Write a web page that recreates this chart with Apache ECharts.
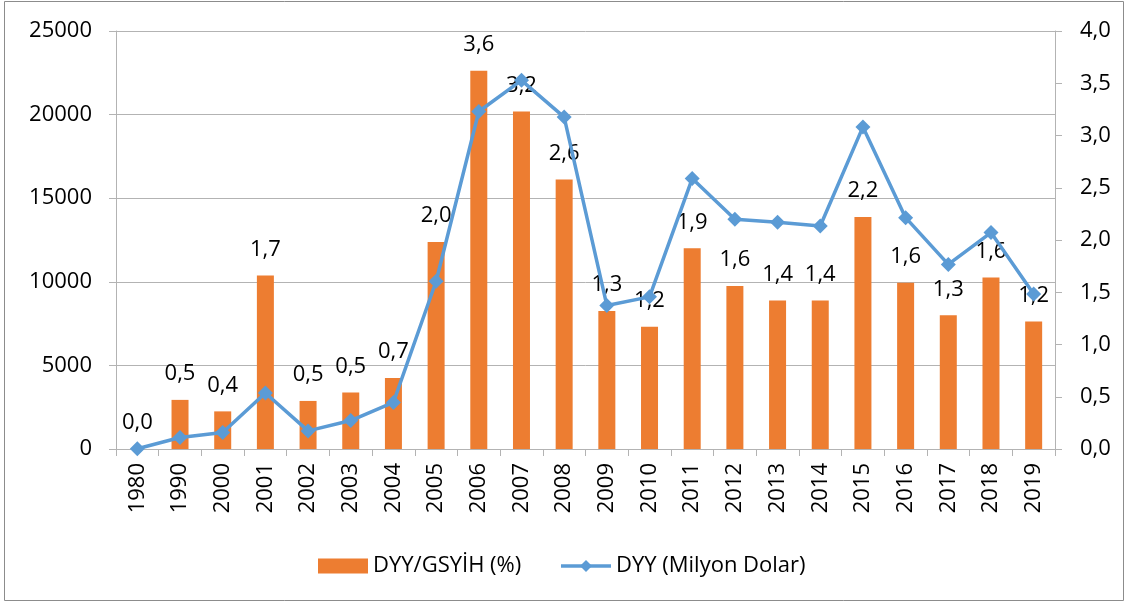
<!DOCTYPE html>
<html>
<head>
<meta charset="utf-8">
<script src="https://cdn.jsdelivr.net/npm/echarts@6/dist/echarts.min.js"></script>
<style>
  html, body { margin: 0; padding: 0; background: #fff; }
  #chart { width: 1126px; height: 604px; }
</style>
</head>
<body>
<div id="chart"></div>
<script>
// years on the x axis
var years = ['1980', '1990', '2000', '2001', '2002', '2003', '2004', '2005', '2006', '2007', '2008',
  '2009', '2010', '2011', '2012', '2013', '2014', '2015', '2016', '2017', '2018', '2019'];
// DYY/GSYİH (%) - bars, right axis
var dyyGsyih = [0.0, 0.47, 0.36, 1.66, 0.46, 0.54, 0.68, 1.98, 3.62, 3.23, 2.58,
  1.32, 1.17, 1.92, 1.56, 1.42, 1.42, 2.22, 1.59, 1.28, 1.64, 1.22];
// DYY (Milyon Dolar) - line, left axis
var dyyMilyon = [18, 684, 982, 3352, 1082, 1702, 2785, 10031, 20185, 22047, 19851,
  8585, 9099, 16176, 13744, 13563, 13337, 19263, 13835, 11042, 12944, 9266];

var fontFam = '"Open Sans", sans-serif';
var gridColor = '#b3b3b3';

function comma(v) {
  return v.toFixed(1).replace('.', ',');
}

var chart = echarts.init(document.getElementById('chart'));
var option = {
  animation: false,
  textStyle: { fontFamily: fontFam },
  graphic: [{
    type: 'rect',
    shape: { x: 4.5, y: 1.5, width: 1119, height: 599 },
    style: { fill: 'none', stroke: '#8c8c8c', lineWidth: 1 },
    silent: true
  }],
  grid: { left: 116, right: 71, top: 31, bottom: 155 },
  legend: {
    left: 313,
    top: 550,
    itemGap: 38,
    itemWidth: 50,
    itemHeight: 15,
    textStyle: { fontSize: 22, color: '#000', fontFamily: fontFam },
    data: [
      { name: 'DYY/GSYİH (%)', icon: 'rect' },
      { name: 'DYY (Milyon Dolar)', itemStyle: { color: '#5B9BD5' }, lineStyle: { width: 3.5, color: '#5B9BD5' } }
    ]
  },
  xAxis: {
    type: 'category',
    data: years,
    boundaryGap: true,
    axisLine: { lineStyle: { color: gridColor, width: 1 } },
    axisTick: { show: true, length: 7, lineStyle: { color: gridColor } },
    axisLabel: { rotate: 90, margin: 14, fontSize: 22, color: '#000', fontFamily: fontFam, interval: 0 }
  },
  yAxis: [{
    type: 'value',
    min: 0, max: 25000, interval: 5000,
    axisLine: { show: true, lineStyle: { color: gridColor } },
    axisTick: { show: true, length: 7, lineStyle: { color: gridColor } },
    axisLabel: { margin: 24, fontSize: 22, color: '#000', fontFamily: fontFam, formatter: function (v) { return String(v); } },
    splitLine: { show: true, lineStyle: { color: gridColor, width: 1 } }
  }, {
    type: 'value',
    min: 0, max: 4, interval: 0.5,
    axisLine: { show: true, lineStyle: { color: gridColor } },
    axisTick: { show: true, length: 7, lineStyle: { color: gridColor } },
    axisLabel: { margin: 25, fontSize: 22, color: '#000', fontFamily: fontFam, formatter: comma },
    splitLine: { show: false }
  }],
  series: [{
    name: 'DYY/GSYİH (%)',
    type: 'bar',
    yAxisIndex: 1,
    data: dyyGsyih,
    barWidth: 17,
    itemStyle: { color: '#ED7D31' },
    label: {
      show: true,
      position: 'top',
      distance: 15,
      fontSize: 22,
      color: '#000',
      fontFamily: fontFam,
      formatter: function (p) { return comma(p.value); }
    }
  }, {
    name: 'DYY (Milyon Dolar)',
    type: 'line',
    yAxisIndex: 0,
    data: dyyMilyon,
    symbol: 'diamond',
    symbolSize: 15,
    lineStyle: { color: '#5B9BD5', width: 3.5 },
    itemStyle: { color: '#5B9BD5' }
  }]
};
chart.setOption(option);
</script>
</body>
</html>
